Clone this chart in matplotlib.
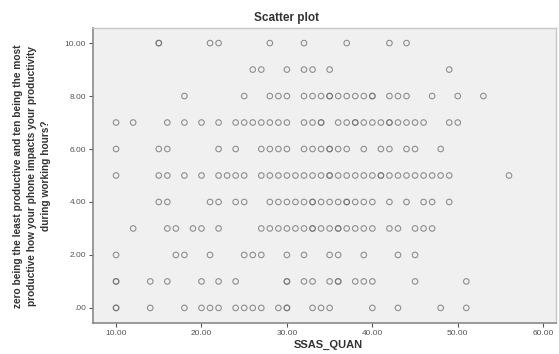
import numpy as np
import matplotlib
matplotlib.use("Agg")
import matplotlib.pyplot as plt

plt.rcParams['font.family'] = ['Liberation Sans', 'DejaVu Sans']

# SSAS_QUAN values read off each row (one row per productivity rating 0..10)
# repeats are points that look darker in the original (overlapping cases)
row_0 = [10, 10, 14, 18, 20, 21, 22, 24, 25, 26, 27, 29, 30, 30, 33, 34, 35, 40, 43, 48, 51]
row_1 = [10, 10, 14, 16, 20, 22, 24, 30, 30, 32, 33, 35, 36, 36, 38, 39, 40, 45, 51]
row_2 = [10, 17, 18, 21, 25, 26, 27, 30, 32, 35, 36, 39, 43, 45]
row_3 = [12, 16, 17, 19, 20, 22, 27, 28, 29, 30, 31, 32, 33, 33, 34, 35, 36, 36, 37, 38, 39, 40,
         42, 43, 45, 46, 47]
row_4 = [15, 16, 21, 22, 24, 25, 28, 29, 30, 31, 32, 33, 33, 34, 35, 36, 37, 37, 38, 39, 40,
         42, 44, 46, 47, 49]
row_5 = [10, 15, 16, 18, 20, 22, 23, 24, 25, 27, 28, 29, 30, 31, 32, 33, 34, 35, 35, 36, 37, 38,
         39, 40, 41, 41, 42, 43, 44, 45, 46, 47, 48, 49, 56]
row_6 = [10, 15, 16, 22, 24, 27, 28, 29, 30, 32, 33, 34, 35, 35, 36, 37, 39, 41, 42, 44, 45, 48]
row_7 = [10, 12, 16, 18, 20, 22, 24, 25, 26, 27, 28, 29, 30, 32, 33, 34, 34, 36, 37, 38, 38, 39,
         40, 41, 42, 42, 43, 44, 45, 46, 49, 50]
row_8 = [18, 25, 28, 29, 30, 32, 33, 34, 35, 35, 36, 37, 38, 39, 40, 40, 42, 43, 44, 47, 50, 53]
row_9 = [26, 27, 30, 32, 33, 35, 49]
row_10 = [15, 15, 21, 22, 28, 32, 37, 42, 44]

rows = [row_0, row_1, row_2, row_3, row_4, row_5, row_6, row_7, row_8, row_9, row_10]

x_ticks = [10, 20, 30, 40, 50, 60]
x_tick_labels = ['10.00', '20.00', '30.00', '40.00', '50.00', '60.00']
y_ticks = [0, 2, 4, 6, 8, 10]
y_tick_labels = ['.00', '2.00', '4.00', '6.00', '8.00', '10.00']

xs = []
ys = []
for rating, vals in enumerate(rows):
    xs.extend(vals)
    ys.extend([rating] * len(vals))

fig = plt.figure(figsize=(5.59, 3.54), dpi=100)
ax = fig.add_axes([93 / 559, 1 - 323 / 354, (556 - 93) / 559, (323 - 28) / 354])
ax.set_facecolor('#f0f0f0')

ax.scatter(xs, ys, s=16, facecolors='none', edgecolors='#6e6e6e', linewidths=0.8, alpha=0.75)

ax.set_xlim(7.3, 61.5)
ax.set_ylim(-0.57, 10.57)

ax.set_xticks(x_ticks)
ax.set_xticklabels(x_tick_labels)
ax.set_yticks(y_ticks)
ax.set_yticklabels(y_tick_labels)
ax.tick_params(axis='both', labelsize=6, colors='#555555', length=3, width=0.8,
               direction='out', pad=2)

for side in ['left', 'bottom']:
    ax.spines[side].set_color('#8a8a8a')
    ax.spines[side].set_linewidth(1.2)
for side in ['top', 'right']:
    ax.spines[side].set_color('#c8c8c8')
    ax.spines[side].set_linewidth(1.0)

fig.text(286 / 559, 1 - 18 / 354, 'Scatter plot', ha='center', va='center',
         fontsize=8.5, fontweight='bold', color='#333333')
fig.text(328 / 559, 1 - 345 / 354, 'SSAS_QUAN', ha='center', va='center',
         fontsize=8, fontweight='bold', color='#333333')

ylabel_lines = ['zero being the least productive and ten being the most',
                'productive how your phone impacts your productivity',
                'during working hours?']
for i, line in enumerate(ylabel_lines):
    fig.text((18 + 14 * i) / 559, 1 - 176 / 354, line, rotation=90, ha='center', va='center',
             fontsize=7.3, fontweight='bold', color='#333333')

fig.savefig('out.png', dpi=100)
